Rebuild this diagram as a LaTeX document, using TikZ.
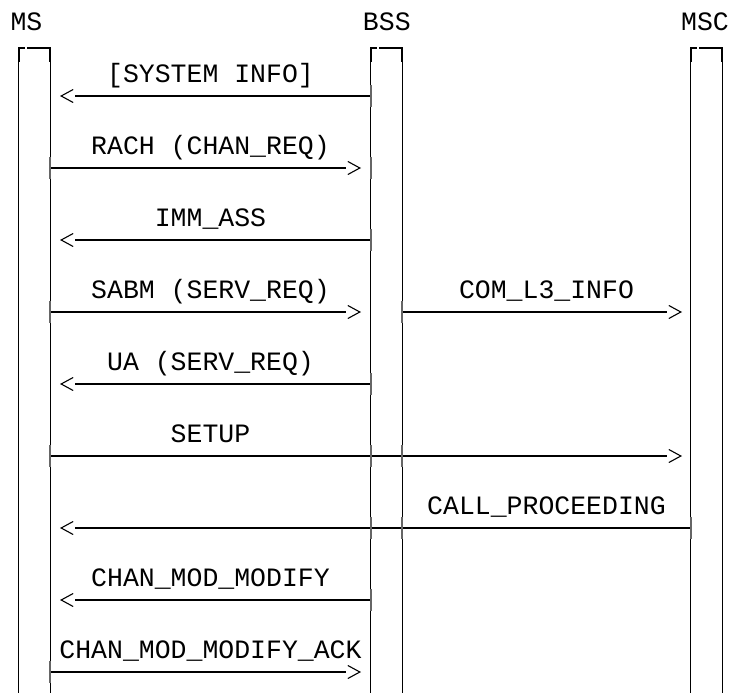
\documentclass[tikz,border=0pt]{standalone}
\usepackage{fontspec}
\setmonofont{Liberation Mono}
\usetikzlibrary{arrows.meta}
\begin{document}
\begin{tikzpicture}[x=1pt,y=-1pt,
  lbl/.style={font=\fontsize{26.5}{30}\selectfont\ttfamily, inner sep=0pt, anchor=base},
  life/.style={line width=1pt, black},
  lifetop/.style={line width=2pt, black},
  corner/.style={line width=1.8pt, black},
  msg/.style={line width=2.3pt, black, shorten >=15pt,
    preaction={draw=white, line width=0.01pt, shorten >=0pt,
      -{Straight Barb[length=12pt,width=13pt,line width=1.1pt,color=black]}}},
  tick/.style={draw=black!60, line width=1.5pt}]
\useasboundingbox (0,0) rectangle (730,693);
% lifeline boxes
\foreach \l in {18.7,370.7,690.7}{
  \draw[life] (\l,48) -- (\l,693);
  \draw[life] (\l+31.5,48) -- (\l+31.5,693);
  \draw[lifetop] (\l-0.5,48) -- (\l+6,48);
  \draw[lifetop] (\l+8.5,48) -- (\l+32,48);
  \draw[corner] (\l,48) -- (\l,62);
  \draw[corner] (\l+31.5,48) -- (\l+31.5,62);
}
% lifeline labels
\node[lbl] (ms) at (26.5,31) {MS};
\node[lbl] (bss) at (386.8,31) {BSS};
\node[lbl] (msc) at (705,31) {MSC};
% message end points
\coordinate (m1s) at (371,96);  \coordinate (m1e) at (60,96);
\coordinate (m2s) at (50,168);  \coordinate (m2e) at (361,168);
\coordinate (m3s) at (371,240); \coordinate (m3e) at (60,240);
\coordinate (m4s) at (50,312);  \coordinate (m4e) at (361,312);
\coordinate (m5s) at (402,312); \coordinate (m5e) at (682,312);
\coordinate (m6s) at (371,384); \coordinate (m6e) at (60,384);
\coordinate (m7s) at (50,456);  \coordinate (m7e) at (682,456);
\coordinate (m8s) at (691,528); \coordinate (m8e) at (60,528);
\coordinate (m9s) at (371,600); \coordinate (m9e) at (60,600);
\coordinate (m10s) at (50,672); \coordinate (m10e) at (361,672);
% crossing / edge marks
\coordinate (x2) at (371,168);
\coordinate (x7a) at (371,456); \coordinate (x7b) at (402,456);
\coordinate (x8a) at (402,528); \coordinate (x8b) at (371,528);
% messages
\draw[msg] (m1s) -- (m1e);
\draw[msg] (m2s) -- (m2e);
\draw[msg] (m3s) -- (m3e);
\draw[msg] (m4s) -- (m4e);
\draw[msg] (m5s) -- (m5e);
\draw[msg] (m6s) -- (m6e);
\draw[msg] (m7s) -- (m7e);
\draw[msg] (m8s) -- (m8e);
\draw[msg] (m9s) -- (m9e);
\draw[msg] (m10s) -- (m10e);
\foreach \c in {m1s,m2s,m3s,m4s,m5s,m6s,m7s,m8s,m9s,m10s,x2,x7a,x7b,x8a,x8b}{
  \draw[tick] ([yshift=-11pt]\c) -- ([yshift=11pt]\c);
}
% labels
\node[lbl] (l1) at (210.5,82) {[SYSTEM INFO]};
\node[lbl] (l2) at (210.5,154) {RACH (CHAN\_REQ)};
\node[lbl] (l3) at (210.5,226) {IMM\_ASS};
\node[lbl] (l4) at (210.5,298) {SABM (SERV\_REQ)};
\node[lbl] (l5) at (546.5,298) {COM\_L3\_INFO};
\node[lbl] (l6) at (210.5,370) {UA (SERV\_REQ)};
\node[lbl] (l7) at (210.5,442) {SETUP};
\node[lbl] (l8) at (546.5,514) {CALL\_PROCEEDING};
\node[lbl] (l9) at (210.5,586) {CHAN\_MOD\_MODIFY};
\node[lbl] (l10) at (210.5,658) {CHAN\_MOD\_MODIFY\_ACK};
\end{tikzpicture}
\end{document}
